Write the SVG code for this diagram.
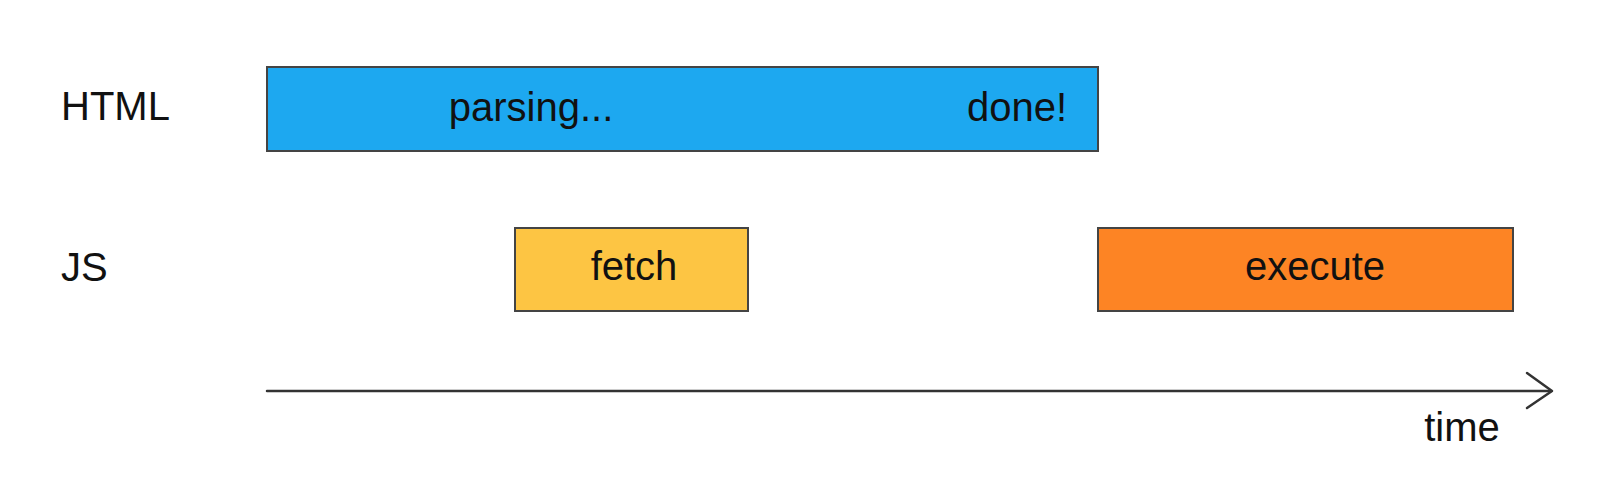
<svg xmlns="http://www.w3.org/2000/svg" width="1598" height="482" viewBox="0 0 1598 482">
  <style>
    text { font-family: "Liberation Sans", Arial, sans-serif; font-size: 40px; fill: #111; }
    .c { text-anchor: middle; }
    .bar { stroke: #444; stroke-width: 2; }
    .axis { stroke: #333; stroke-width: 2.5; fill: none; stroke-linecap: round; stroke-linejoin: round; }
  </style>
  <rect width="1598" height="482" fill="#ffffff"/>
  <g id="label-html"><text x="61" y="120">HTML</text></g>
  <g id="label-js"><text x="61" y="281">JS</text></g>
  <g id="html-parsing">
    <rect class="bar" x="267" y="67" width="831" height="84" fill="#1DA8F0"/>
    <text class="c" x="531" y="121">parsing...</text>
    <text class="c" x="1017" y="121">done!</text>
  </g>
  <g id="js-fetch">
    <rect class="bar" x="515" y="228" width="233" height="83" fill="#FDC543"/>
    <text class="c" x="634" y="280">fetch</text>
  </g>
  <g id="js-execute">
    <rect class="bar" x="1098" y="228" width="415" height="83" fill="#FD8424"/>
    <text class="c" x="1315" y="280">execute</text>
  </g>
  <g id="connectors">
    <line class="axis" x1="267" y1="391" x2="1551" y2="391"/>
    <polyline class="axis" points="1527,373 1552,391 1527,408"/>
  </g>
  <g id="label-time"><text class="c" x="1462" y="441">time</text></g>
</svg>
